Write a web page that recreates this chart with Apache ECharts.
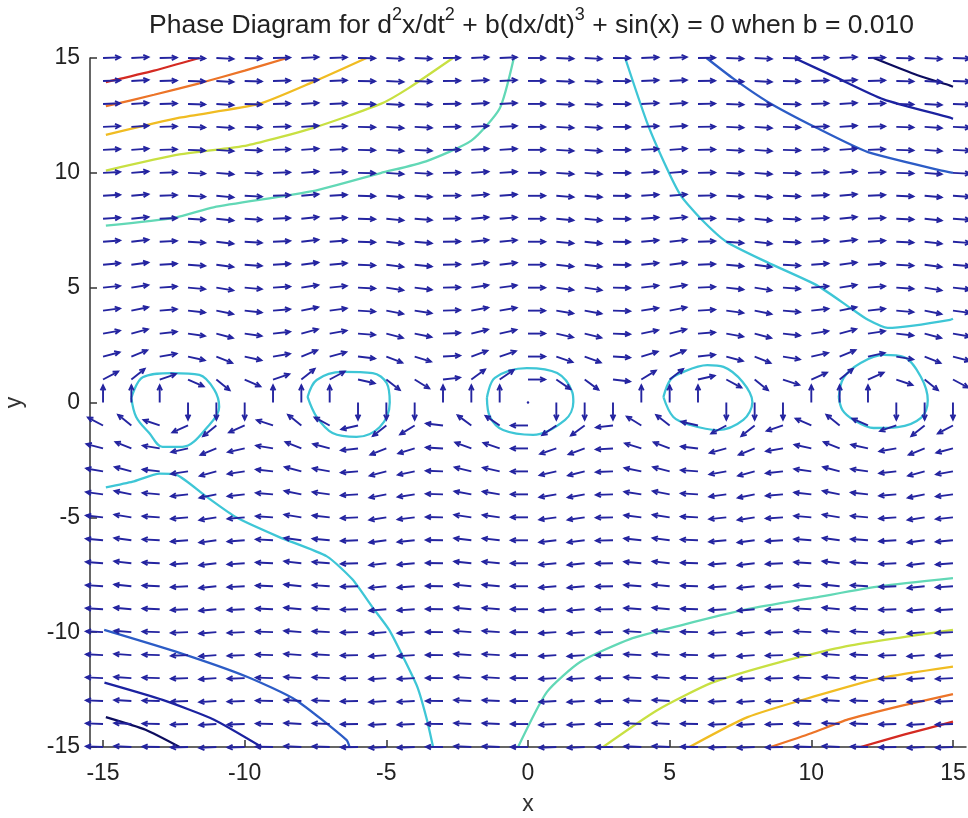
<!DOCTYPE html>
<html>
<head>
<meta charset="utf-8">
<script src="https://cdn.jsdelivr.net/npm/echarts@6/dist/echarts.min.js"></script>
<style>
  html, body { margin: 0; padding: 0; background: #fff; }
  #main { width: 968px; height: 818px; }
</style>
</head>
<body>
<div id="main"></div>
<script>
// grid of the quiver plot
var gridX = [-15, -14, -13, -12, -11, -10, -9, -8, -7, -6, -5, -4, -3, -2, -1, 0, 1, 2, 3, 4, 5, 6, 7, 8, 9, 10, 11, 12, 13, 14, 15];
var gridY = [-15, -14, -13, -12, -11, -10, -9, -8, -7, -6, -5, -4, -3, -2, -1, 0, 1, 2, 3, 4, 5, 6, 7, 8, 9, 10, 11, 12, 13, 14, 15];
var columnPull = [0.65, 0.99, 0.42, -0.54, -1.0, -0.54, 0.41, 0.99, 0.66, -0.28, -0.96, -0.76, 0.14, 0.91, 0.84, 0,
                  -0.84, -0.91, -0.14, 0.76, 0.96, 0.28, -0.66, -0.99, -0.41, 0.54, 1.0, 0.54, -0.42, -0.99, -0.65];
var xTicks = [-15, -10, -5, 0, 5, 10, 15];

// contour lines
var navyTR   = [[12.2, 15], [13.75, 14.25], [14.9, 13.8], [15, 13.75]];
var blueTR   = [[9.4, 15], [10.8, 14.2], [12.55, 13.2], [14.9, 12.4], [15, 12.35]];
var midTR    = [[6.3, 15], [7.25, 14.1], [8.45, 13.1], [10.2, 11.95], [12.0, 10.9], [14.6, 10.1], [15, 10.0]];
var cyanTR   = [[3.43, 15], [4.2, 12.2], [4.9, 10.2], [5.4, 9.0], [6.1, 8.0], [7.0, 7.0], [8.45, 6.1], [10.2, 5.1],
                [11.4, 4.1], [12.0, 3.6], [12.7, 3.25], [13.6, 3.35], [14.9, 3.6], [15, 3.65]];
var navyBL   = [[-14.9, -13.7], [-13.5, -14.25], [-12.3, -15]];
var blueBL   = [[-14.95, -12.2], [-12.9, -12.95], [-11.1, -13.8], [-9.4, -15]];
var midBL    = [[-14.96, -9.9], [-12.3, -10.9], [-9.9, -11.95], [-8.2, -12.95], [-6.4, -14.7], [-6.3, -15]];
var cyanBL   = [[-14.9, -3.7], [-13.95, -3.45], [-13.0, -3.1], [-12.4, -3.15], [-11.35, -4.1], [-10.3, -5.0],
                [-8.8, -5.85], [-7.1, -6.7], [-6.2, -7.7], [-5.5, -8.9], [-4.9, -9.9], [-4.4, -11.1], [-3.9, -12.4],
                [-3.57, -13.8], [-3.35, -15]];
var redTL    = [[-14.9, 13.95], [-13.2, 14.45], [-11.6, 15]];
var orangeTL = [[-14.9, 12.9], [-13.2, 13.4], [-11.6, 13.9], [-10.0, 14.45], [-8.5, 15]];
var goldTL   = [[-14.9, 11.65], [-12.3, 12.4], [-9.5, 13.0], [-7.6, 13.95], [-5.7, 15]];
var limeTL   = [[-14.9, 10.1], [-12.3, 10.8], [-9.9, 11.2], [-7.6, 11.95], [-5.2, 13.0], [-4.2, 13.7], [-2.65, 15]];
var aquaTL   = [[-14.9, 7.7], [-12.45, 8.05], [-11.1, 8.5], [-7.6, 9.2], [-5.2, 9.99], [-3.6, 10.5], [-2.0, 11.4],
                [-1.0, 12.8], [-0.5, 15]];
var redBR    = [[11.74, -15], [13.3, -14.45], [15, -13.9]];
var orangeBR = [[8.56, -15], [10.0, -14.4], [11.3, -13.8], [13.2, -13.2], [15, -12.7]];
var goldBR   = [[5.7, -15], [7.75, -13.7], [10.1, -12.8], [12.45, -12.0], [15, -11.5]];
var limeBR   = [[2.65, -15], [4.56, -13.4], [6.5, -12.2], [8.9, -11.3], [11.3, -10.6], [15, -9.9]];
var aquaBR   = [[-0.35, -15], [0.67, -12.6], [1.84, -11.3], [3.6, -10.3], [5.4, -9.7], [7.75, -9.0], [10.1, -8.5],
                [12.45, -8.0], [15, -7.65]];
// closed curves round the centres
var loopA = [[-14.0, 0.2], [-13.6, 1.1], [-12.55, 1.28], [-11.6, 1.2], [-11.07, 0.55], [-10.9, -0.2], [-11.25, -0.98],
             [-12.2, -1.93], [-12.9, -1.93], [-13.37, -1.33], [-13.83, -0.63], [-14.0, 0.2]];
var loopB = [[-7.78, 0.24], [-7.46, 0.98], [-6.55, 1.33], [-5.48, 1.28], [-4.99, 0.85], [-4.88, 0], [-5.23, -1.07],
             [-6.05, -1.5], [-6.9, -1.33], [-7.46, -0.63], [-7.78, 0.24]];
var loopC = [[-1.45, 0.2], [-1.17, 1.07], [-0.04, 1.5], [1.03, 1.28], [1.56, 0.46], [1.6, 0.02], [1.31, -0.76],
             [0.18, -1.41], [-0.88, -1.2], [-1.34, -0.63], [-1.45, 0.2]];
var loopD = [[4.78, 0.24], [5.02, 0.98], [5.38, 1.28], [6.33, 1.63], [6.9, 1.55], [7.57, 0.9], [7.92, 0.02], [7.6, -0.76],
             [6.69, -1.2], [5.73, -0.98], [5.13, -0.63], [4.78, 0.24]];
var loopE = [[10.97, 0.24], [11.14, 1.07], [11.74, 1.72], [12.56, 2.07], [13.27, 1.98], [13.87, 1.11], [14.11, 0.1],
             [13.87, -0.67], [13.05, -1.07], [12.2, -1.11], [11.5, -0.76], [11.1, -0.33], [10.97, 0.24]];

var contours = [
    { d: navyTR, c: '#0c0c5e' }, { d: blueTR, c: '#1b22a0' }, { d: midTR, c: '#2c5cc6' }, { d: cyanTR, c: '#3ec6d6' },
    { d: navyBL, c: '#0c0c5e' }, { d: blueBL, c: '#1b22a0' }, { d: midBL, c: '#2c5cc6' }, { d: cyanBL, c: '#3ec6d6' },
    { d: redTL, c: '#d42a22' }, { d: orangeTL, c: '#ec7428' }, { d: goldTL, c: '#f0bc22' }, { d: limeTL, c: '#c8e042' }, { d: aquaTL, c: '#62d8b6' },
    { d: redBR, c: '#d42a22' }, { d: orangeBR, c: '#ec7428' }, { d: goldBR, c: '#f0bc22' }, { d: limeBR, c: '#c8e042' }, { d: aquaBR, c: '#62d8b6' },
    { d: loopA, c: '#3ec6d6', s: true }, { d: loopB, c: '#3ec6d6', s: true }, { d: loopC, c: '#3ec6d6', s: true },
    { d: loopD, c: '#3ec6d6', s: true }, { d: loopE, c: '#3ec6d6', s: true }
];

// quiver table: dx/dt = y (the row), dy/dt = column pull
var arrows = [];
for (var j = 0; j < gridY.length; j++) {
    for (var i = 0; i < gridX.length; i++) {
        arrows.push([gridX[i], gridY[j], gridY[j], columnPull[i]]);
    }
}

var ARROW_LEN = 17;
function renderArrow(params, api) {
    var p = api.coord([api.value(0), api.value(1)]);
    var u = api.value(2), v = api.value(3);
    var style = { stroke: '#2424a0', lineWidth: 1.9, fill: null };
    if (u == 0 && v == 0) {
        return { type: 'circle', shape: { cx: p[0], cy: p[1], r: 1.2 }, style: { fill: '#2424a0' } };
    }
    var sx = api.size([1, 0])[0], sy = api.size([0, 1])[1];
    var dx = u * sx, dy = -v * sy;
    var n = Math.sqrt(dx * dx + dy * dy);
    dx = dx / n; dy = dy / n;
    var tip = [p[0] + dx * ARROW_LEN, p[1] + dy * ARROW_LEN];
    var hl = 5.5, a = 0.45;
    var ca = Math.cos(a), sa = Math.sin(a);
    var h1 = [tip[0] - hl * (dx * ca - dy * sa), tip[1] - hl * (dy * ca + dx * sa)];
    var h2 = [tip[0] - hl * (dx * ca + dy * sa), tip[1] - hl * (dy * ca - dx * sa)];
    return {
        type: 'group',
        children: [
            { type: 'line', shape: { x1: p[0], y1: p[1], x2: tip[0], y2: tip[1] }, style: style },
            { type: 'polyline', shape: { points: [h1, tip, h2] }, style: style }
        ]
    };
}

var myChart = echarts.init(document.getElementById('main'));

var series = contours.map(function (c) {
    return {
        type: 'line',
        data: c.d,
        showSymbol: false,
        smooth: c.s ? 0.35 : 0.2,
        silent: true,
        z: 2,
        lineStyle: { color: c.c, width: 2.3 }
    };
});
series.push({
    type: 'custom',
    data: arrows,
    renderItem: renderArrow,
    silent: true,
    z: 3
});

myChart.setOption({
    backgroundColor: '#fff',
    animation: false,
    title: {
        text: 'Phase Diagram for d{s|2}x/dt{s|2} + b(dx/dt){s|3} + sin(x) = 0 when b = 0.010',
        left: 144,
        top: 1,
        textStyle: {
            fontFamily: 'Liberation Sans',
            fontSize: 26.5,
            fontWeight: 'normal',
            color: '#222',
            lineHeight: 40,
            verticalAlign: 'bottom',
            rich: {
                s: { fontSize: 18, fontFamily: 'Liberation Sans', color: '#222', verticalAlign: 'top', lineHeight: 40 }
            }
        }
    },
    grid: { left: 90, top: 58, width: 876, height: 689, containLabel: false, outerBoundsMode: 'none' },
    xAxis: {
        type: 'value',
        min: -15.46,
        max: 15.46,
        name: 'x',
        nameLocation: 'middle',
        nameGap: 46,
        nameTextStyle: { fontFamily: 'Liberation Sans', fontSize: 23, color: '#333' },
        axisLine: { onZero: false, lineStyle: { color: '#333', width: 1.5 } },
        axisTick: { inside: true, length: 7, customValues: xTicks, lineStyle: { color: '#333', width: 1.5 } },
        axisLabel: { customValues: xTicks, fontFamily: 'Liberation Sans', fontSize: 23, color: '#222', margin: 15 },
        splitLine: { show: false }
    },
    yAxis: {
        type: 'value',
        min: -15,
        max: 15,
        interval: 5,
        name: 'y',
        nameLocation: 'middle',
        nameGap: 64,
        nameRotate: 90,
        nameTextStyle: { fontFamily: 'Liberation Sans', fontSize: 23, color: '#333' },
        axisLine: { onZero: false, lineStyle: { color: '#333', width: 1.5 } },
        axisTick: { inside: true, length: 7, lineStyle: { color: '#333', width: 1.5 } },
        axisLabel: { fontFamily: 'Liberation Sans', fontSize: 23, color: '#222', margin: 10 },
        splitLine: { show: false }
    },
    series: series
});
</script>
</body>
</html>
